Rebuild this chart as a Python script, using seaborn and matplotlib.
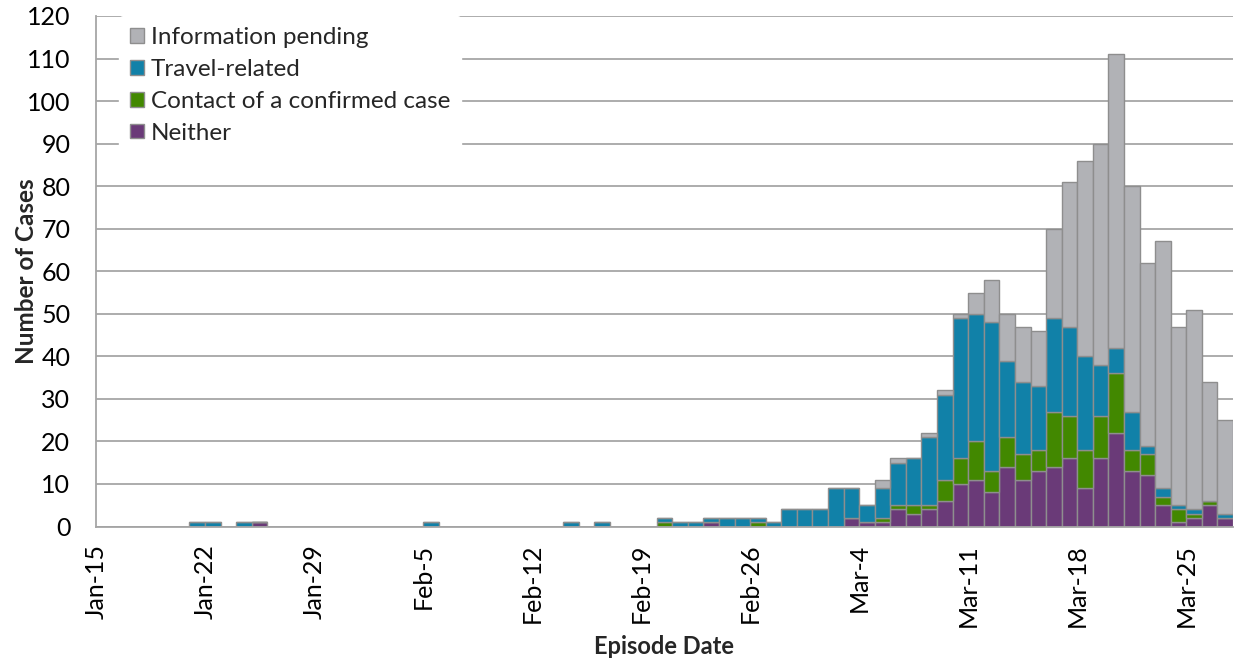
import numpy as np
import pandas as pd
import matplotlib
matplotlib.use("Agg")
import matplotlib.pyplot as plt
import seaborn as sns

# ---------------- data ----------------
start_date = "2020-01-15"
end_date = "2020-03-27"

categories = ["Information pending", "Travel-related",
              "Contact of a confirmed case", "Neither"]

neither = [
    0, 0, 0, 0, 0, 0, 0, 0, 0, 0,
    1, 0, 0, 0, 0, 0, 0, 0, 0, 0,
    0, 0, 0, 0, 0, 0, 0, 0, 0, 0,
    0, 0, 0, 0, 0, 0, 0, 0, 0, 1,
    0, 0, 0, 0, 0, 0, 0, 0, 2, 1,
    1, 4, 3, 4, 6, 10, 11, 8, 14, 11,
    13, 14, 16, 9, 16, 22, 13, 12, 5, 1,
    2, 5, 2]

contact = [
    0, 0, 0, 0, 0, 0, 0, 0, 0, 0,
    0, 0, 0, 0, 0, 0, 0, 0, 0, 0,
    0, 0, 0, 0, 0, 0, 0, 0, 0, 0,
    0, 0, 0, 0, 0, 0, 1, 0, 0, 0,
    0, 0, 1, 0, 0, 0, 0, 0, 0, 0,
    1, 1, 2, 1, 5, 6, 9, 5, 7, 6,
    5, 13, 10, 9, 10, 14, 5, 5, 2, 3,
    1, 1, 0]

travel = [
    0, 0, 0, 0, 0, 0, 1, 1, 0, 1,
    0, 0, 0, 0, 0, 0, 0, 0, 0, 0,
    0, 1, 0, 0, 0, 0, 0, 0, 0, 0,
    1, 0, 1, 0, 0, 0, 1, 1, 1, 1,
    2, 2, 1, 1, 4, 4, 4, 9, 7, 4,
    7, 10, 11, 16, 20, 33, 30, 35, 18, 17,
    15, 22, 21, 22, 12, 6, 9, 2, 2, 1,
    1, 0, 1]

pending = [
    0, 0, 0, 0, 0, 0, 0, 0, 0, 0,
    0, 0, 0, 0, 0, 0, 0, 0, 0, 0,
    0, 0, 0, 0, 0, 0, 0, 0, 0, 0,
    0, 0, 0, 0, 0, 0, 0, 0, 0, 0,
    0, 0, 0, 0, 0, 0, 0, 0, 0, 0,
    2, 1, 0, 1, 1, 1, 5, 10, 11, 13,
    13, 21, 34, 46, 52, 69, 53, 43, 58, 42,
    47, 28, 22]

colors = {
    "Information pending": "#B1B2B6",
    "Travel-related": "#1181A8",
    "Contact of a confirmed case": "#428800",
    "Neither": "#6A3A78",
}

# ---------------- build table ----------------
dates = pd.date_range(start_date, end_date, freq="D")
day_num = np.arange(len(dates))
series = {
    "Information pending": pending,
    "Travel-related": travel,
    "Contact of a confirmed case": contact,
    "Neither": neither,
}
rows = []
for cat in categories:
    for d, v in zip(day_num, series[cat]):
        rows.append({"day": float(d) + 0.5, "category": cat, "count": float(v)})
df = pd.DataFrame(rows)

tick_pos = day_num[::7]
tick_labels = [f"{d:%b}-{d.day}" for d in dates[::7]]

# ---------------- plot ----------------
sns.set_style("white")
plt.rcParams["font.family"] = ["Lato", "DejaVu Sans"]

fig = plt.figure(figsize=(12.38, 6.62), dpi=100)
ax = fig.add_axes([96 / 1238, 1 - 526.5 / 662, (1233 - 96) / 1238, (526.5 - 16) / 662])

sns.histplot(data=df, x="day", weights="count", hue="category",
             hue_order=categories, multiple="stack",
             binwidth=1, binrange=(0, len(dates)), palette=colors,
             alpha=1, edgecolor="#8E8E8E", linewidth=1.0, ax=ax)

ax.set_xlim(0, len(dates))
ax.set_ylim(0, 120)
ax.set_yticks(np.arange(0, 121, 10))
ax.set_xticks(tick_pos)
ax.set_xticklabels(tick_labels, rotation=90)

ax.yaxis.grid(True, color="#A6A6A6", linewidth=1.3)
ax.set_axisbelow(True)
for s in ["top", "right"]:
    ax.spines[s].set_visible(False)
for s in ["left", "bottom"]:
    ax.spines[s].set_color("#A6A6A6")
    ax.spines[s].set_linewidth(1.3)

ax.tick_params(axis="both", which="major", labelsize=18, colors="#A6A6A6",
               labelcolor="black", length=6, width=1.3, direction="out")
ax.tick_params(axis="x", pad=6.5)
ax.tick_params(axis="y", pad=12.5)

ax.set_xlabel("Episode Date", fontsize=17, fontweight="bold", labelpad=6)
ax.set_ylabel("Number of Cases", fontsize=17.5, fontweight="bold", labelpad=-8)

sns.move_legend(ax, "upper left", bbox_to_anchor=(0.0205, 1.0), title=None,
                frameon=True, fontsize=17.5, handlelength=0.55,
                handleheight=0.55, handletextpad=0.3, labelspacing=0.45,
                borderpad=0.45, borderaxespad=0.0)
leg = ax.get_legend()
leg.get_frame().set_facecolor("white")
leg.get_frame().set_edgecolor("white")
leg.get_frame().set_alpha(1)

fig.savefig("out.png", dpi=100)
